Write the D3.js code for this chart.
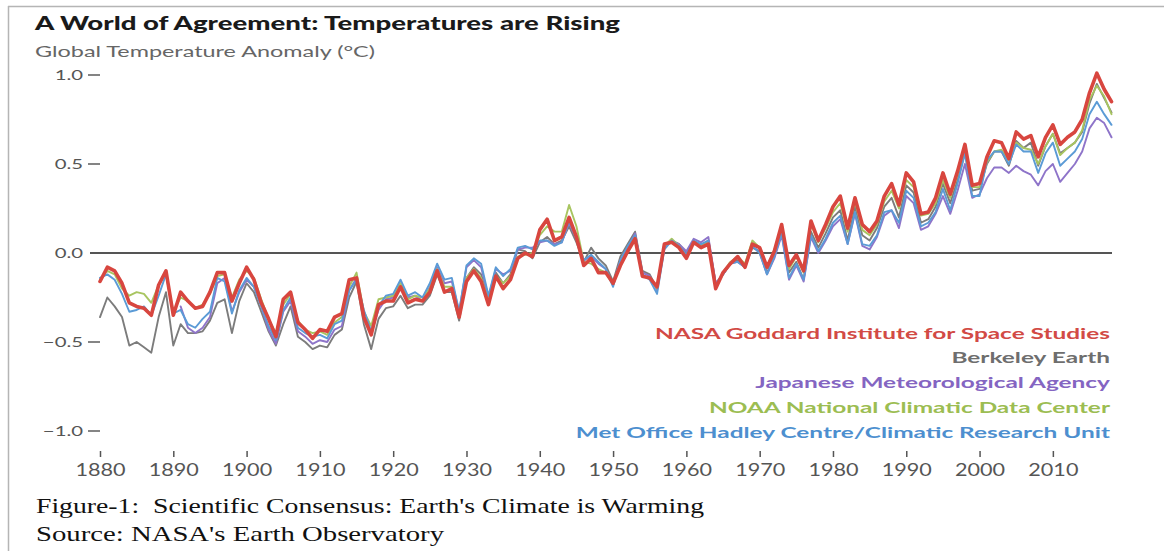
<!DOCTYPE html>
<html>
<head>
<meta charset="utf-8">
<script src="https://cdn.jsdelivr.net/npm/d3@7"></script>
<style>
  html, body { margin: 0; padding: 0; background: #fff; }
  svg { display: block; }
  .cap { white-space: pre; }
</style>
</head>
<body>
<svg id="chart" width="1164" height="551"></svg>
<script>
// ---------------- DATA ----------------
const years = d3.range(1880, 2019);
const xTickYears = [1880, 1890, 1900, 1910, 1920, 1930, 1940, 1950, 1960, 1970, 1980, 1990, 2000, 2010];
const yTickValues = [1.0, 0.5, 0.0, -0.5, -1.0];
const yTickLabels = ["1.0", "0.5", "0.0", "\u22120.5", "\u22121.0"];

const titleText = "A World of Agreement: Temperatures are Rising";
const subtitleText = "Global Temperature Anomaly (\u00B0C)";
const captionLines = ["Figure-1:  Scientific Consensus: Earth's Climate is Warming", "Source: NASA's Earth Observatory"];

const seriesNames = [
  "NASA Goddard Institute for Space Studies",
  "Berkeley Earth",
  "Japanese Meteorological Agency",
  "NOAA National Climatic Data Center",
  "Met Office Hadley Centre/Climatic Research Unit"
];

const nasa = [
  -0.16,-0.08,-0.10,-0.17,-0.28,-0.30,-0.31,-0.35,-0.18,-0.10,
  -0.35,-0.22,-0.27,-0.31,-0.30,-0.22,-0.11,-0.11,-0.27,-0.17,
  -0.08,-0.15,-0.28,-0.37,-0.47,-0.26,-0.22,-0.39,-0.43,-0.48,
  -0.43,-0.44,-0.36,-0.34,-0.15,-0.14,-0.36,-0.46,-0.29,-0.27,
  -0.27,-0.19,-0.28,-0.26,-0.27,-0.22,-0.10,-0.22,-0.20,-0.36,
  -0.16,-0.10,-0.16,-0.29,-0.13,-0.20,-0.15,-0.03,-0.00,-0.02,
  0.13,0.19,0.07,0.09,0.20,0.09,-0.07,-0.03,-0.11,-0.11,
  -0.17,-0.07,0.01,0.08,-0.13,-0.14,-0.19,0.05,0.06,0.03,
  -0.03,0.06,0.03,0.05,-0.20,-0.11,-0.06,-0.02,-0.08,0.05,
  0.03,-0.08,0.01,0.16,-0.07,-0.01,-0.10,0.18,0.07,0.16,
  0.26,0.32,0.14,0.31,0.16,0.12,0.18,0.32,0.39,0.27,
  0.45,0.40,0.22,0.23,0.31,0.45,0.33,0.46,0.61,0.38,
  0.39,0.54,0.63,0.62,0.53,0.68,0.64,0.66,0.54,0.65,
  0.72,0.61,0.65,0.68,0.75,0.90,1.01,0.92,0.85
];

const berkeley = [
  -0.36,-0.25,-0.30,-0.36,-0.52,-0.50,-0.53,-0.56,-0.36,-0.22,
  -0.52,-0.40,-0.45,-0.45,-0.44,-0.38,-0.28,-0.26,-0.45,-0.27,
  -0.17,-0.22,-0.33,-0.44,-0.52,-0.40,-0.30,-0.47,-0.50,-0.54,
  -0.52,-0.53,-0.46,-0.43,-0.25,-0.16,-0.40,-0.54,-0.37,-0.31,
  -0.30,-0.24,-0.31,-0.29,-0.29,-0.24,-0.12,-0.22,-0.22,-0.38,
  -0.14,-0.08,-0.12,-0.27,-0.11,-0.17,-0.12,0.02,0.01,-0.03,
  0.06,0.09,0.05,0.07,0.15,0.06,-0.05,0.03,-0.03,-0.07,
  -0.16,-0.02,0.05,0.12,-0.10,-0.12,-0.20,0.03,0.07,0.05,
  0.00,0.07,0.04,0.07,-0.17,-0.12,-0.06,-0.04,-0.08,0.03,
  0.01,-0.11,-0.02,0.12,-0.11,-0.05,-0.15,0.12,0.03,0.11,
  0.20,0.24,0.07,0.26,0.10,0.07,0.14,0.26,0.31,0.20,
  0.38,0.34,0.17,0.19,0.26,0.39,0.28,0.41,0.56,0.35,
  0.36,0.50,0.57,0.57,0.49,0.63,0.59,0.62,0.49,0.60,
  0.67,0.56,0.59,0.62,0.68,0.84,0.95,0.87,0.79
];

const jma = [
  null,null,null,null,null,null,null,null,null,null,
  null,-0.30,-0.42,-0.45,-0.42,-0.36,-0.17,-0.14,-0.33,-0.22,
  -0.15,-0.19,-0.30,-0.43,-0.51,-0.33,-0.27,-0.44,-0.47,-0.51,
  -0.49,-0.50,-0.43,-0.41,-0.21,-0.14,-0.34,-0.45,-0.32,-0.26,
  -0.25,-0.17,-0.25,-0.24,-0.27,-0.19,-0.08,-0.17,-0.16,-0.33,
  -0.08,-0.04,-0.08,-0.25,-0.09,-0.12,-0.10,0.02,0.03,0.03,
  0.06,0.07,0.05,0.06,0.17,0.08,-0.04,-0.02,-0.06,-0.09,
  -0.18,-0.04,0.03,0.11,-0.11,-0.13,-0.21,0.03,0.07,0.05,
  0.01,0.08,0.06,0.09,-0.17,-0.12,-0.06,-0.05,-0.08,0.04,
  0.00,-0.12,-0.03,0.10,-0.15,-0.07,-0.16,0.09,0.00,0.07,
  0.15,0.19,0.05,0.22,0.04,0.02,0.09,0.21,0.24,0.14,
  0.32,0.28,0.13,0.15,0.22,0.32,0.22,0.35,0.50,0.31,
  0.33,0.42,0.48,0.48,0.45,0.49,0.46,0.44,0.38,0.46,
  0.50,0.40,0.45,0.50,0.57,0.70,0.76,0.73,0.65
];

const noaa = [
  -0.15,-0.10,-0.12,-0.20,-0.24,-0.22,-0.23,-0.28,-0.18,-0.11,
  -0.33,-0.25,-0.27,-0.31,-0.29,-0.23,-0.13,-0.12,-0.25,-0.15,
  -0.10,-0.14,-0.26,-0.37,-0.45,-0.29,-0.23,-0.38,-0.43,-0.45,
  -0.44,-0.46,-0.39,-0.36,-0.19,-0.11,-0.33,-0.41,-0.26,-0.25,
  -0.24,-0.17,-0.26,-0.24,-0.25,-0.20,-0.09,-0.19,-0.19,-0.35,
  -0.14,-0.09,-0.14,-0.27,-0.13,-0.17,-0.13,-0.02,-0.01,0.00,
  0.10,0.15,0.12,0.12,0.27,0.15,-0.05,-0.06,-0.09,-0.11,
  -0.18,-0.06,0.01,0.09,-0.13,-0.14,-0.20,0.04,0.08,0.04,
  -0.02,0.06,0.04,0.06,-0.19,-0.11,-0.05,-0.02,-0.06,0.07,
  0.03,-0.08,0.02,0.15,-0.09,-0.02,-0.11,0.16,0.06,0.14,
  0.23,0.28,0.12,0.29,0.13,0.10,0.16,0.29,0.35,0.25,
  0.41,0.37,0.21,0.22,0.28,0.41,0.31,0.44,0.59,0.37,
  0.37,0.51,0.57,0.58,0.52,0.62,0.59,0.58,0.50,0.60,
  0.67,0.55,0.59,0.62,0.69,0.86,0.94,0.88,0.78
];

const hadcrut = [
  -0.14,-0.12,-0.15,-0.23,-0.33,-0.32,-0.30,-0.35,-0.24,-0.12,
  -0.34,-0.32,-0.40,-0.42,-0.37,-0.33,-0.14,-0.16,-0.34,-0.21,
  -0.14,-0.19,-0.30,-0.41,-0.49,-0.32,-0.25,-0.42,-0.45,-0.47,
  -0.46,-0.48,-0.40,-0.38,-0.21,-0.15,-0.32,-0.44,-0.30,-0.24,
  -0.23,-0.15,-0.24,-0.22,-0.25,-0.17,-0.06,-0.15,-0.14,-0.33,
  -0.07,-0.03,-0.06,-0.24,-0.08,-0.13,-0.09,0.03,0.04,0.02,
  0.07,0.07,0.04,0.06,0.18,0.08,-0.04,-0.01,-0.05,-0.09,
  -0.19,-0.04,0.04,0.10,-0.12,-0.15,-0.23,0.02,0.07,0.04,
  -0.01,0.07,0.05,0.07,-0.19,-0.12,-0.06,-0.05,-0.08,0.04,
  0.00,-0.12,-0.02,0.11,-0.14,-0.06,-0.15,0.10,0.01,0.08,
  0.17,0.21,0.05,0.23,0.05,0.04,0.10,0.23,0.24,0.17,
  0.35,0.31,0.15,0.17,0.23,0.36,0.24,0.39,0.56,0.32,
  0.32,0.52,0.57,0.57,0.50,0.61,0.57,0.57,0.45,0.56,
  0.62,0.49,0.53,0.57,0.64,0.78,0.85,0.78,0.72
];

const lineColors = ["#d8463f", "#7c7c7c", "#8e74c9", "#a8c560", "#5b9bd6"];
const legendColors = ["#d24a45", "#6e6e6e", "#8465c2", "#9cbd52", "#4d8fcf"];

// ---------------- DRAW ----------------
const svg = d3.select("#chart");

// frame lines
svg.append("line").attr("x1", 8).attr("x2", 1164).attr("y1", 6.5).attr("y2", 6.5)
  .attr("stroke", "#b5b5b5").attr("stroke-width", 1.5);
svg.append("line").attr("x1", 8.5).attr("x2", 8.5).attr("y1", 6).attr("y2", 551)
  .attr("stroke", "#b5b5b5").attr("stroke-width", 1.5);

const x = d3.scaleLinear().domain([1880, 2018]).range([100, 1111.5]);
const y = d3.scaleLinear().domain([-1, 1]).range([431, 75]);

function fitWidth(sel, w) {
  sel.attr("textLength", w).attr("lengthAdjust", "spacingAndGlyphs");
}

// title
svg.append("text").attr("x", 35).attr("y", 30)
  .attr("font-family", "Lato, 'Open Sans', sans-serif").attr("font-weight", 900)
  .attr("font-size", 18.5).attr("fill", "#1a1a1a").text(titleText)
  .call(fitWidth, 585);

svg.append("text").attr("x", 35).attr("y", 57)
  .attr("font-family", "Lato, 'Open Sans', sans-serif").attr("font-weight", 400)
  .attr("font-size", 16).attr("fill", "#666").text(subtitleText)
  .call(fitWidth, 340);

// y axis
const yAxis = svg.append("g").attr("class", "y-axis");
yTickValues.forEach((v, i) => {
  const t = yAxis.append("text").attr("x", 83).attr("y", y(v) + 5)
    .attr("text-anchor", "end")
    .attr("font-family", "Lato, 'Open Sans', sans-serif").attr("font-size", 14)
    .attr("fill", "#555").text(yTickLabels[i]);
  const w = t.node().getComputedTextLength();
  t.call(fitWidth, w * 1.45);
  if (v !== 0) {
    yAxis.append("line").attr("x1", 88).attr("x2", 100)
      .attr("y1", y(v)).attr("y2", y(v))
      .attr("stroke", "#666").attr("stroke-width", 1.6);
  }
});

// zero line
svg.append("line").attr("x1", 90).attr("x2", 1112)
  .attr("y1", y(0)).attr("y2", y(0))
  .attr("stroke", "#555").attr("stroke-width", 2);

// x axis via d3 axis
const xAxis = d3.axisBottom(x).tickValues(xTickYears).tickFormat(d3.format("d")).tickSize(6).tickPadding(6);
const gx = svg.append("g").attr("transform", "translate(0,451)").call(xAxis);
gx.select(".domain").remove();
gx.selectAll(".tick line").attr("stroke", "#555").attr("stroke-width", 1.5);
gx.selectAll(".tick text")
  .attr("font-family", "Lato, 'Open Sans', sans-serif").attr("font-size", 18)
  .attr("fill", "#555").attr("dy", "0.71em")
  .each(function () {
    const w = this.getComputedTextLength();
    d3.select(this).call(fitWidth, w * 1.2);
  });

// lines
const allSeries = [nasa, berkeley, jma, noaa, hadcrut];
const line = d3.line()
  .defined(d => d.v !== null)
  .x(d => x(d.year))
  .y(d => y(d.v))
  .curve(d3.curveLinear);

const drawOrder = [1, 2, 3, 4, 0];
drawOrder.forEach(i => {
  const data = years.map((yr, k) => ({ year: yr, v: allSeries[i][k] }));
  svg.append("path").datum(data)
    .attr("fill", "none")
    .attr("stroke", lineColors[i])
    .attr("stroke-width", i === 0 ? 3.6 : 1.9)
    .attr("stroke-linejoin", "round")
    .attr("stroke-linecap", "round")
    .attr("d", line);
});

// legend
const legendY = [338.5, 362.5, 387.5, 412.5, 437.5];
const legend = svg.append("g");
const legendTexts = seriesNames.map((name, i) =>
  legend.append("text").attr("x", 1110).attr("y", legendY[i])
    .attr("text-anchor", "end")
    .attr("font-family", "Lato, 'Open Sans', sans-serif").attr("font-weight", 700)
    .attr("font-size", 15.5).attr("fill", legendColors[i]).text(name)
);
const refW = legendTexts[0].node().getComputedTextLength();
const legendScale = 455 / refW;
legendTexts.forEach(t => {
  const w = t.node().getComputedTextLength();
  t.call(fitWidth, w * legendScale);
});

// caption
const capW = [668, 408];
captionLines.forEach((c, i) => {
  svg.append("text").attr("class", "cap").attr("x", 36).attr("y", 513 + i * 28)
    .attr("font-family", "'Liberation Serif', 'Times New Roman', serif")
    .attr("font-size", 21).attr("fill", "#111").text(c)
    .call(fitWidth, capW[i]);
});
</script>
</body>
</html>
